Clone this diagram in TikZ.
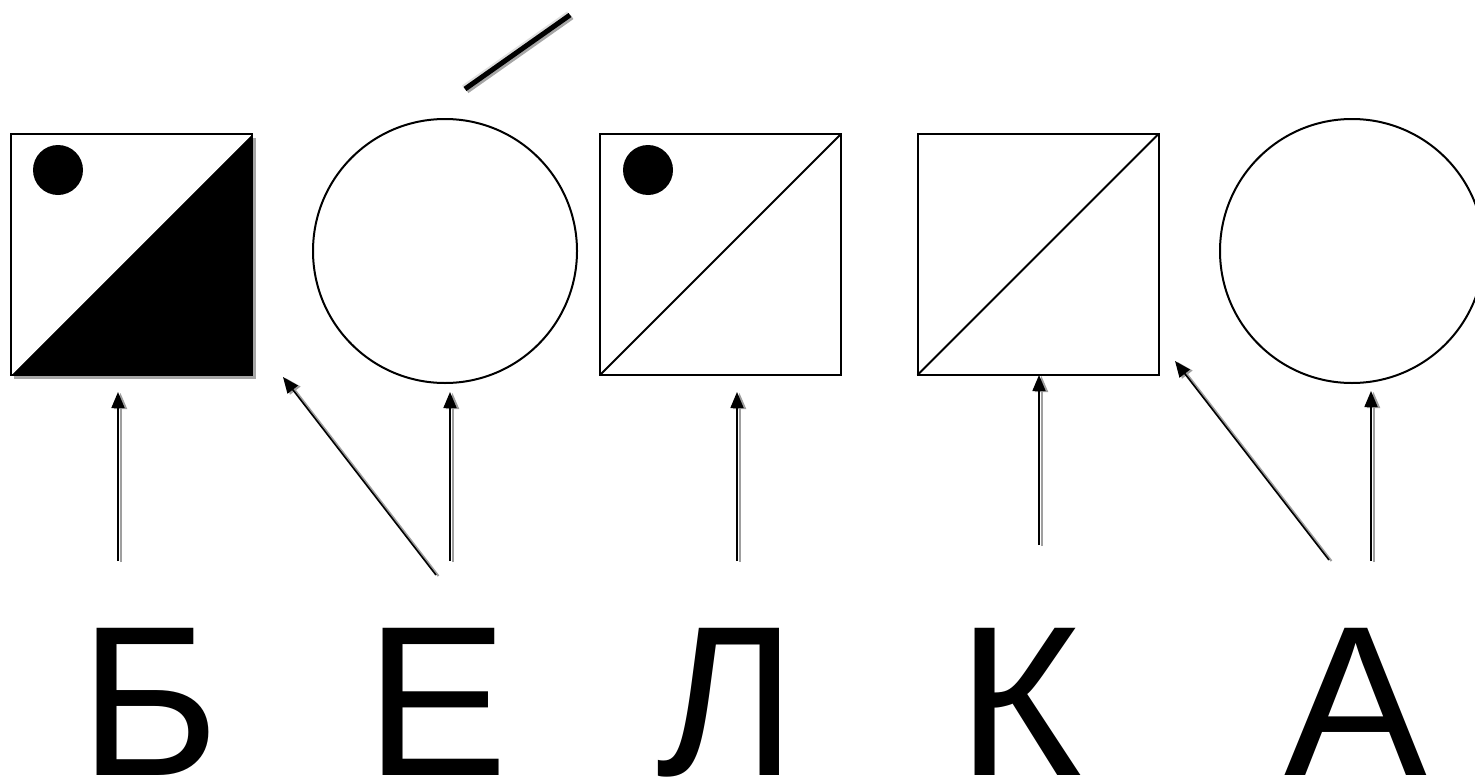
\documentclass[tikz,border=0pt]{standalone}
\usepackage{fontspec}
\setmainfont{Liberation Sans}
\usetikzlibrary{arrows.meta}
\tikzset{
  box/.style={draw=black, line width=2pt, minimum size=241pt, inner sep=0pt, outer sep=0pt},
  ring/.style={circle, draw=black, line width=2pt, minimum size=264pt, inner sep=0pt, outer sep=0pt},
  dot/.style={circle, fill=black, minimum size=50pt, inner sep=0pt},
  letter/.style={font=\fontsize{214}{214}\selectfont, inner sep=0pt, anchor=base, text depth=0pt},
  pointer/.style={-{Triangle[length=16pt,width=13pt]}, line width=1.6pt, black,
    preaction={draw=gray!75, line width=2pt, transform canvas={xshift=2.5pt, yshift=-1pt}}},
}
\begin{document}
\begin{tikzpicture}[x=1pt,y=-1pt]
\useasboundingbox (0,0) rectangle (1475,779);
% shadow of first square
\fill[gray!70] (14,138) rectangle (256,379);
\node[box, fill=white] (sq1) at (131,254.5) {};
\fill[black] (sq1.south west) -- (sq1.north east) -- (sq1.south east) -- cycle;
\draw[white, line width=1.5pt] ([shift={(1,-1)}]sq1.south west) -- ([shift={(-1,1)}]sq1.north east);
\draw[line width=2pt] (sq1.south west) rectangle (sq1.north east);
\node[dot] (d1) at (58,170) {};
% circle with accent
\node[ring] (c1) at (445,251) {};
\coordinate (acA) at (465,89);
\coordinate (acB) at (570,15);
\draw[gray!25, line width=5pt] ([shift={(-1.5,-1.5)}]acA) -- ([shift={(-1.5,-1.5)}]acB);
\draw[gray!70, line width=5pt] ([shift={(2,2)}]acA) -- ([shift={(2,2)}]acB);
\draw[black, line width=5pt] (acA) -- (acB);
% second square
\node[box] (sq2) at (720.5,254.5) {};
\draw[line width=2pt] (sq2.south west) -- (sq2.north east);
\node[dot] (d2) at (648,170) {};
% third square
\node[box] (sq3) at (1038,254.5) {};
\draw[line width=2pt] (sq3.south west) -- (sq3.north east);
% last circle
\node[ring] (c2) at (1352,251) {};
% letters
\node[letter] (lB) at (150,775) {Б};
\node[letter] (lE) at (437,775) {Е};
\node[letter] (lL) at (727,775) {Л};
\node[letter] (lK) at (1020,775) {К};
\node[letter] (lA) at (1356,775) {А};
% arrow endpoints
\coordinate (t1) at (118,561); \coordinate (h1) at (118,392);
\coordinate (t2) at (436,575); \coordinate (h2) at (283,377);
\coordinate (t3) at (450,561); \coordinate (h3) at (450,392);
\coordinate (t4) at (737,561); \coordinate (h4) at (737,392);
\coordinate (t5) at (1039,545); \coordinate (h5) at (sq3.south);
\coordinate (t6) at (1329,560); \coordinate (h6) at (1175,361);
\coordinate (t7) at (1371,561); \coordinate (h7) at (1371,391);
\draw[pointer] (t1) -- (h1);
\draw[pointer] (t2) -- (h2);
\draw[pointer] (t3) -- (h3);
\draw[pointer] (t4) -- (h4);
\draw[pointer] (t5) -- ([xshift=1pt]h5);
\draw[pointer] (t6) -- (h6);
\draw[pointer] (t7) -- (h7);
\end{tikzpicture}
\end{document}
